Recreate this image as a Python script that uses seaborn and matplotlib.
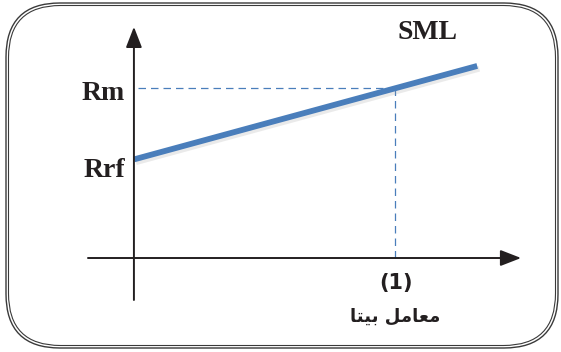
import numpy as np
import pandas as pd
import seaborn as sns
import matplotlib.pyplot as plt
import matplotlib.patheffects as pe
from matplotlib.patches import FancyBboxPatch

# valori del grafico (beta sull'asse x, rendimento sull'asse y)
sml_beta = [0.0, 1.315]
sml_ret = [5.8, 11.3]
rrf = 5.8
rm = 10.0
beta_m = 1.0
y_labels = ['Rm', 'Rrf']
x_tick_label = '(1)'
line_label = 'SML'
# "معامل بيتا" in forme di presentazione, ordine visivo
x_title = '\uFE8E\uFE98\uFEF4\uFE91 \uFEDE\uFEE3\uFE8E\uFECC\uFEE3'

blue = '#4a7ebb'
ink = '#231f20'

sns.set_style('white')
plt.rcParams['font.family'] = ['DejaVu Sans']

fig = plt.figure(figsize=(5.61, 3.52), dpi=100)

# cornice arrotondata doppia (coordinate in pixel)
bg = fig.add_axes([0, 0, 1, 1])
bg.set_xlim(0, 561)
bg.set_ylim(352, 0)
bg.axis('off')
bg.add_patch(FancyBboxPatch((6, 3), 552, 345, boxstyle='round,pad=0,rounding_size=54',
                            fill=False, ec='#3a3a3a', lw=1.0))
bg.add_patch(FancyBboxPatch((8.5, 5.5), 547, 340, boxstyle='round,pad=0,rounding_size=52',
                            fill=False, ec='#3a3a3a', lw=0.8))

ax = fig.add_axes([0, 0, 1, 1])
ax.patch.set_alpha(0)
ax.set_xlim(-0.513, 1.636)
ax.set_ylim(-5.53, 15.18)
ax.axis('off')

# assi con frecce
arrow = dict(arrowstyle='-|>,head_length=0.9,head_width=0.35', color=ink, lw=1.4,
             shrinkA=0, shrinkB=0, mutation_scale=14)
ax.annotate('', xy=(1.483, 0), xytext=(-0.176, 0), arrowprops=arrow)
ax.annotate('', xy=(0, 13.6), xytext=(0, -2.47), arrowprops=arrow)

# linee tratteggiate verso Rm e beta = 1
ax.plot([0.015, beta_m], [rm, rm], color=blue, lw=0.9, ls=(0, (6, 4)))
ax.plot([beta_m, beta_m], [0, rm], color=blue, lw=0.9, ls=(0, (6, 4)))

# retta SML
df = pd.DataFrame({'beta': sml_beta, 'ret': sml_ret})
sns.lineplot(data=df, x='beta', y='ret', ax=ax, color=blue, lw=4.2,
             solid_capstyle='butt', legend=False,
             path_effects=[pe.SimpleLineShadow(offset=(1.5, -2), shadow_color='#999999', alpha=0.2),
                           pe.Normal()])
ax.axis('off')

serif = dict(family='Liberation Serif', weight='bold', fontsize=20, color=ink)
ax.text(-0.119, rm - 0.71, y_labels[0], ha='center', va='baseline', **serif)
ax.text(-0.115, rrf - 1.04, y_labels[1], ha='center', va='baseline', **serif)
ax.text(1.126, 12.88, line_label, ha='center', va='baseline', **serif)

ax.text(beta_m + 0.004, -1.82, x_tick_label, ha='center', va='baseline',
        fontsize=15, fontweight='bold', color=ink)
ax.text(beta_m, -3.76, x_title, ha='center', va='baseline',
        fontsize=13, fontweight='bold', color=ink)

fig.savefig('out.png', dpi=100)
